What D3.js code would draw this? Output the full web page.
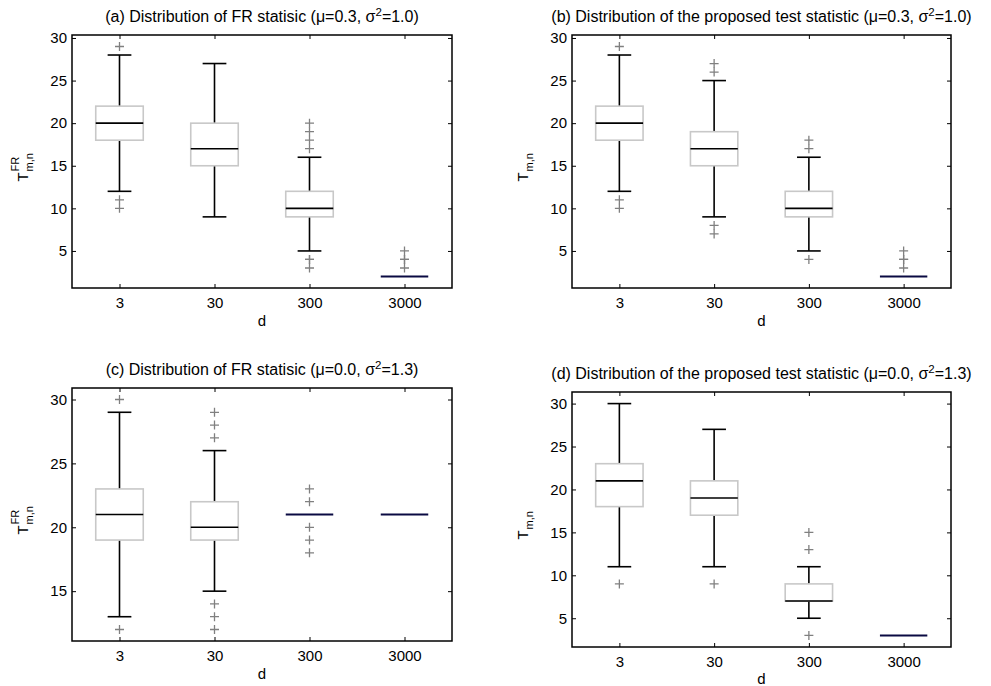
<!DOCTYPE html>
<html>
<head>
<meta charset="utf-8">
<script src="https://cdn.jsdelivr.net/npm/d3@7"></script>
<style>
  html, body { margin: 0; padding: 0; background: #fff; }
  svg { display: block; font-family: "Liberation Sans", Arial, sans-serif; }
</style>
</head>
<body>
<svg id="chart" width="991" height="686"></svg>
<script>
// d values on the x axis
const categories = ["3", "30", "300", "3000"];
const yTicks = [5, 10, 15, 20, 25, 30];

// box stats per category: [lower whisker, q1, median, q3, upper whisker]
const frBoxesA = [[12, 18, 20, 22, 28], [9, 15, 17, 20, 27], [5, 9, 10, 12, 16], [2, 2, 2, 2, 2]];
const frOutliersA = [[29, 11, 10], [], [20, 19, 18, 17, 4, 4, 3], [5, 4, 4, 3]];

const propBoxesB = [[12, 18, 20, 22, 28], [9, 15, 17, 19, 25], [5, 9, 10, 12, 16], [2, 2, 2, 2, 2]];
const propOutliersB = [[29, 11, 10], [27, 26, 8, 7], [18, 17, 4], [5, 4, 4, 3]];

const frBoxesC = [[13, 19, 21, 23, 29], [15, 19, 20, 22, 26], [21, 21, 21, 21, 21], [21, 21, 21, 21, 21]];
const frOutliersC = [[30, 12], [29, 28, 27, 14, 13, 12], [23, 22, 20, 19, 18], []];

const propBoxesD = [[11, 18, 21, 23, 30], [11, 17, 19, 21, 27], [5, 7, 7, 9, 11], [3, 3, 3, 3, 3]];
const propOutliersD = [[9], [9], [15, 13, 3], []];

const titles = [
  ["(a) Distribution of FR statisic (\u03bc=0.3, \u03c3", "=1.0)"],
  ["(b) Distribution of the proposed test statistic (\u03bc=0.3, \u03c3", "=1.0)"],
  ["(c) Distribution of FR statisic (\u03bc=0.0, \u03c3", "=1.3)"],
  ["(d) Distribution of the proposed test statistic (\u03bc=0.0, \u03c3", "=1.3)"]
];

const panels = [
  { boxes: frBoxesA, outliers: frOutliersA, title: titles[0], fr: true, left: 72, right: 452, top: 35, bottom: 288 },
  { boxes: propBoxesB, outliers: propOutliersB, title: titles[1], fr: false, left: 572, right: 951, top: 35, bottom: 288 },
  { boxes: frBoxesC, outliers: frOutliersC, title: titles[2], fr: true, left: 72, right: 452, top: 388, bottom: 641 },
  { boxes: propBoxesD, outliers: propOutliersD, title: titles[3], fr: false, left: 572, right: 951, top: 392, bottom: 647 }
];

const svg = d3.select("#chart");
const boxGray = "#c8c8c8";
const outGray = "#808080";
const navy = "#0a0a42";

panels.forEach(drawPanel);

function drawPanel(p) {
  const g = svg.append("g");

  // matlab style limits: data range padded 5%
  const all = p.boxes.flat().concat(p.outliers.flat());
  const [mn, mx] = d3.extent(all);
  const pad = (mx - mn) * 0.05;

  const x = d3.scaleLinear().domain([0.5, 4.5]).range([p.left, p.right]);
  const y = d3.scaleLinear().domain([mn - pad, mx + pad]).range([p.bottom, p.top]);
  const xPos = (i) => x(i + 1);

  const ticksY = yTicks.filter(t => t >= mn - pad && t <= mx + pad);

  // axes, ticks pointing inward
  g.append("g")
    .attr("transform", `translate(${p.left},0)`)
    .call(d3.axisLeft(y).tickValues(ticksY).tickSize(-4).tickPadding(5))
    .call(s => s.select(".domain").remove());
  g.append("g")
    .attr("transform", `translate(${p.right},0)`)
    .call(d3.axisRight(y).tickValues(ticksY).tickSize(-4).tickFormat(""))
    .call(s => s.select(".domain").remove());
  g.append("g")
    .attr("transform", `translate(0,${p.bottom})`)
    .call(d3.axisBottom(x).tickValues([1, 2, 3, 4]).tickSize(-4).tickPadding(9)
      .tickFormat(d => categories[d - 1]))
    .call(s => s.select(".domain").remove());
  g.append("g")
    .attr("transform", `translate(0,${p.top})`)
    .call(d3.axisTop(x).tickValues([1, 2, 3, 4]).tickSize(-4).tickFormat(""))
    .call(s => s.select(".domain").remove());

  g.selectAll(".tick line").attr("stroke", "#000").attr("stroke-width", 1);
  g.selectAll(".tick text").attr("font-size", 15).attr("fill", "#000")
    .attr("font-family", "Liberation Sans, Arial, sans-serif");

  // boxes
  const bw = x(1.25) - x(1);
  const cw = x(1.125) - x(1);
  const bx = g.selectAll(".bx").data(p.boxes).join("g").attr("class", "bx");

  bx.each(function (d, i) {
    const s = d3.select(this);
    const cx = xPos(i);
    const [lo, q1, med, q3, hi] = d;
    if (q1 === q3) {
      s.append("line")
        .attr("x1", cx - bw).attr("x2", cx + bw)
        .attr("y1", y(med)).attr("y2", y(med))
        .attr("stroke", navy).attr("stroke-width", 2);
      return;
    }
    // whiskers
    s.append("line").attr("x1", cx).attr("x2", cx).attr("y1", y(hi)).attr("y2", y(q3))
      .attr("stroke", "#000").attr("stroke-width", 1.6);
    s.append("line").attr("x1", cx).attr("x2", cx).attr("y1", y(q1)).attr("y2", y(lo))
      .attr("stroke", "#000").attr("stroke-width", 1.6);
    s.append("line").attr("x1", cx - cw).attr("x2", cx + cw).attr("y1", y(hi)).attr("y2", y(hi))
      .attr("stroke", "#000").attr("stroke-width", 1.6);
    s.append("line").attr("x1", cx - cw).attr("x2", cx + cw).attr("y1", y(lo)).attr("y2", y(lo))
      .attr("stroke", "#000").attr("stroke-width", 1.6);
    // box
    s.append("rect")
      .attr("x", cx - bw).attr("width", 2 * bw)
      .attr("y", y(q3)).attr("height", y(q1) - y(q3))
      .attr("fill", "#fff").attr("stroke", boxGray).attr("stroke-width", 1.6);
    s.append("line").attr("x1", cx - bw).attr("x2", cx + bw).attr("y1", y(med)).attr("y2", y(med))
      .attr("stroke", "#000").attr("stroke-width", 1.6);
  });

  // outliers as "+"
  p.outliers.forEach((vals, i) => {
    const cx = xPos(i);
    g.selectAll(null).data(vals).join("path")
      .attr("d", v => `M${cx - 4.5},${y(v)}H${cx + 4.5}M${cx},${y(v) - 4.5}V${y(v) + 4.5}`)
      .attr("stroke", outGray).attr("stroke-width", 1.3).attr("fill", "none");
  });

  // frame
  g.append("rect")
    .attr("x", p.left).attr("y", p.top)
    .attr("width", p.right - p.left).attr("height", p.bottom - p.top)
    .attr("fill", "none").attr("stroke", "#000").attr("stroke-width", 1.5);

  // title
  const cxT = (p.left + p.right) / 2;
  const t = g.append("text")
    .attr("x", cxT).attr("y", p.top - 13)
    .attr("text-anchor", "middle").attr("font-size", 16);
  t.append("tspan").text(p.title[0]);
  t.append("tspan").attr("dy", -6).attr("font-size", 11.5).text("2");
  t.append("tspan").attr("dy", 6).text(p.title[1]);

  // x label
  g.append("text")
    .attr("x", cxT).attr("y", Math.min(p.bottom + 38, 684))
    .attr("text-anchor", "middle").attr("font-size", 15).text("d");

  // y label T_{m,n}^{FR}
  const cy = (p.top + p.bottom) / 2;
  const yl = g.append("g").attr("transform", `translate(${p.left - 44},${cy + 4}) rotate(-90)`);
  yl.append("text").attr("x", -16).attr("y", 0).attr("font-size", 15).text("T");
  yl.append("text").attr("x", -6).attr("y", 5).attr("font-size", 11).text("m,n");
  if (p.fr) {
    yl.append("text").attr("x", -6).attr("y", -9).attr("font-size", 11).text("FR");
  }
}
</script>
</body>
</html>
